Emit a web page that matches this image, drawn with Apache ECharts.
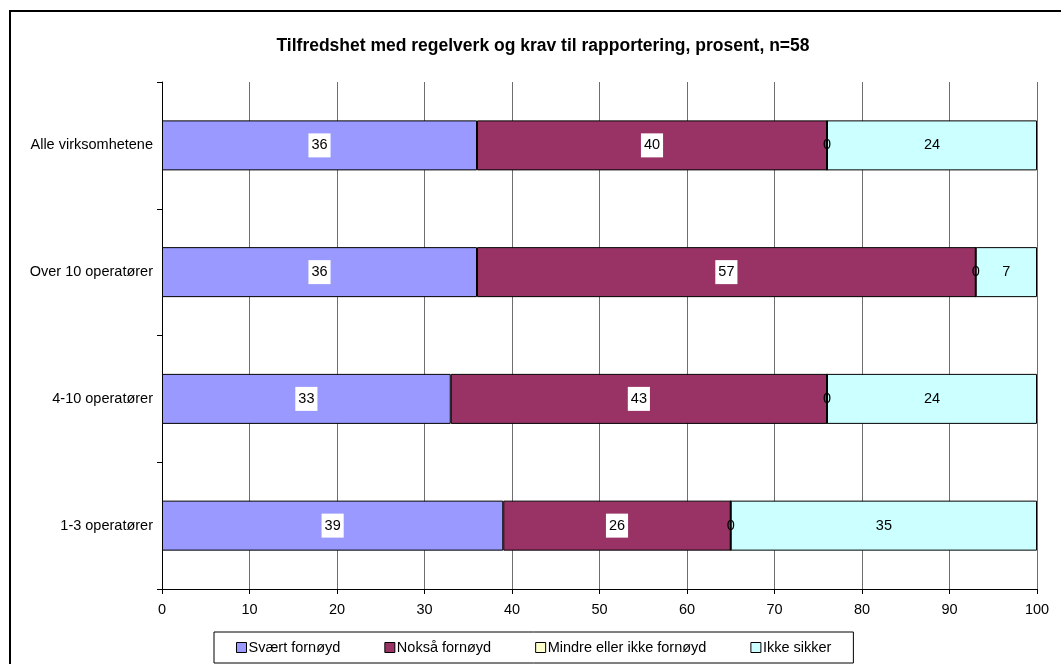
<!DOCTYPE html>
<html>
<head>
<meta charset="utf-8">
<script src="https://cdn.jsdelivr.net/npm/echarts@6/dist/echarts.min.js"></script>
<style>
html,body{margin:0;padding:0;background:#fff;}
#c{width:1061px;height:664px;}
</style>
</head>
<body>
<div id="c"></div>
<script>
const categories = ['1-3 operatører', '4-10 operatører', 'Over 10 operatører', 'Alle virksomhetene'];
const seriesNames = ['Svært fornøyd', 'Nokså fornøyd', 'Mindre eller ikke fornøyd', 'Ikke sikker'];
const svaertFornoyd = [39, 33, 36, 36];
const noksaFornoyd = [26, 43, 57, 40];
const mindreFornoyd = [0, 0, 0, 0];
const ikkeSikker = [35, 24, 7, 24];
const xTicks = [0, 10, 20, 30, 40, 50, 60, 70, 80, 90, 100];
const titleText = 'Tilfredshet med regelverk og krav til rapportering, prosent, n=58';

const colors = ['#9999FF', '#993366', '#FFFFCC', '#CCFFFF'];
const values = [svaertFornoyd, noksaFornoyd, mindreFornoyd, ikkeSikker];
const labelBg = [true, true, false, false];
const FONT = '"Liberation Sans", Arial, sans-serif';
const FS = 14.5;

const chart = echarts.init(document.getElementById('c'), null, {renderer: 'canvas'});

const series = seriesNames.map((name, i) => ({
  name: name,
  type: 'bar',
  stack: 'total',
  barWidth: 50,
  data: values[i],
  itemStyle: {color: colors[i], borderColor: '#000', borderWidth: 1},
  emphasis: {disabled: true},
  label: {
    show: true,
    position: 'inside',
    color: '#000',
    fontSize: FS,
    fontFamily: FONT,
    backgroundColor: labelBg[i] ? '#fff' : 'transparent',
    padding: labelBg[i] ? [5, 3, 4, 3] : 0,
    formatter: p => String(p.value)
  }
}));

chart.setOption({
  animation: false,
  backgroundColor: '#fff',
  title: {
    text: titleText,
    left: 538,
    textAlign: 'center',
    top: 32,
    textStyle: {fontSize: 17.5, fontWeight: 'bold', color: '#000', fontFamily: FONT}
  },
  legend: {
    data: seriesNames,
    left: 214,
    top: 632,
    itemWidth: 10,
    itemHeight: 10,
    itemGap: 44,
    padding: [8, 22, 8, 22],
    borderColor: '#000',
    borderWidth: 1,
    icon: 'rect',
    itemStyle: {borderColor: '#000', borderWidth: 1},
    textStyle: {fontSize: FS, color: '#000', fontFamily: FONT, padding: [0, 0, 0, -3]},
    selectedMode: false
  },
  grid: {left: 162, right: 24, top: 82, bottom: 75, containLabel: false},
  xAxis: {
    type: 'value',
    min: 0,
    max: 100,
    interval: 10,
    axisLine: {show: true, lineStyle: {color: '#000', width: 1}},
    axisTick: {show: true, length: 5, lineStyle: {color: '#000'}},
    axisLabel: {color: '#000', fontSize: FS, fontFamily: FONT, margin: 13,
      formatter: v => xTicks.includes(v) ? String(v) : ''},
    splitLine: {show: true, lineStyle: {color: '#6e6e6e', width: 1}}
  },
  yAxis: {
    type: 'category',
    data: categories,
    axisLine: {show: true, lineStyle: {color: '#000', width: 1}},
    axisTick: {show: true, length: 5, alignWithLabel: false, lineStyle: {color: '#000'}},
    axisLabel: {color: '#000', fontSize: FS, fontFamily: FONT, margin: 9},
    splitLine: {show: false}
  },
  graphic: [{
    type: 'rect',
    shape: {x: 10, y: 11, width: 1200, height: 800},
    style: {fill: 'none', stroke: '#000', lineWidth: 2},
    silent: true,
    z: 100
  }],
  series: series
});
</script>
</body>
</html>
